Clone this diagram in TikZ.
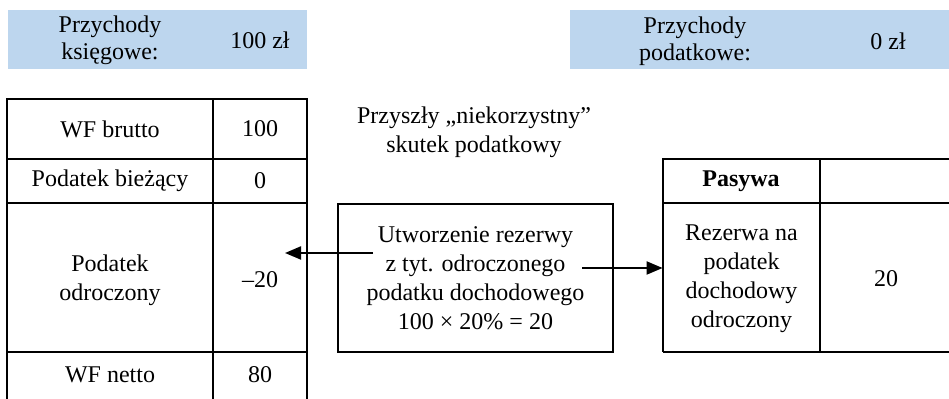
\documentclass[tikz,border=0pt]{standalone}
\usepackage{fontspec}
\setmainfont{Liberation Serif}
\usetikzlibrary{arrows.meta}
\definecolor{bandblue}{RGB}{189,214,238}
\begin{document}
\begin{tikzpicture}[x=0.5pt,y=-0.5pt,
  txt/.style={font=\rmfamily\fontsize{12}{14.5}\selectfont, align=center, inner sep=0pt},
  bandtxt/.style={font=\rmfamily\fontsize{12}{13.5}\selectfont, align=center, inner sep=0pt},
  rule/.style={line width=1pt},
  arr/.style={line width=1pt, -{Triangle[length=8pt,width=6.5pt]}}]
\useasboundingbox (0,0) rectangle (949,399);
% top bands
\fill[bandblue] (8,10) rectangle (307,69);
\fill[bandblue] (570,10) rectangle (949,69);
\node[bandtxt] (b1) at (110,40) {Przychody\\księgowe:};
\node[bandtxt] (b2) at (260,40) {100 zł};
\node[bandtxt] (b3) at (695,41) {Przychody\\podatkowe:};
\node[bandtxt] (b4) at (888,41) {0 zł};
% left table
\draw[rule] (7,399) -- (7,99) -- (307,99) -- (307,399);
\draw[rule] (213,99) -- (213,399);
\draw[rule] (7,159) -- (307,159);
\draw[rule] (7,203) -- (307,203);
\draw[rule] (7,352) -- (307,352);
\node[txt] (l1) at (110,129) {WF brutto};
\node[txt] (v1) at (260,129) {100};
\node[txt] (l2) at (110,181) {Podatek bieżący};
\node[txt] (v2) at (260,181) {0};
\node[txt] (l3) at (110,280) {Podatek\\odroczony};
\node[txt] (v3) at (260,280) {–20};
\node[txt] (l4) at (110,375) {WF netto};
\node[txt] (v4) at (260,375) {80};
% center
\node[txt] (note) at (474,132) {Przyszły „niekorzystny”\\skutek podatkowy};
\node[txt, draw, line width=1pt, minimum width=275*0.5pt, minimum height=148*0.5pt] (mid) at (475.5,278) {Utworzenie rezerwy\\z tyt. odroczonego\\podatku dochodowego\\100 × 20\% = 20};
% right table
\draw[rule] (663,352) -- (663,159) -- (949,159);
\draw[rule] (820,159) -- (820,352);
\draw[rule] (663,203) -- (949,203);
\draw[rule] (663,352) -- (949,352);
\node[txt, font=\rmfamily\fontsize{12}{14.5}\selectfont\bfseries] (pas) at (741,181) {Pasywa};
\node[txt, minimum width=157*0.5pt, minimum height=149*0.5pt] (rez) at (741.5,279) {Rezerwa na\\podatek\\dochodowy\\odroczony};
\node[txt] (v5) at (886,279) {20};
% arrows
\coordinate (s1) at (373,253);
\coordinate (t1) at (285,253);
\coordinate (s2) at (582,268);
\draw[arr] (s1) -- (t1);
\draw[arr] (s2) -- (s2 -| rez.west);
\end{tikzpicture}
\end{document}
